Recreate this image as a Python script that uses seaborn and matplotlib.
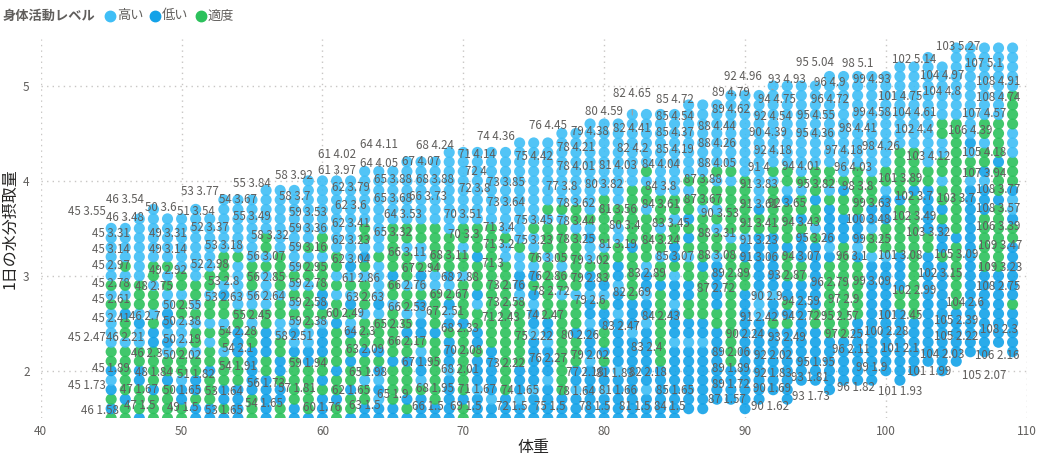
import pandas as pd
import matplotlib
matplotlib.use("Agg")
import matplotlib.pyplot as plt
from matplotlib.lines import Line2D
import seaborn as sns

# weights (x categories) and the shared y levels used by the columns
weights = [45, 46, 47, 48, 49, 50, 51, 52, 53, 54, 55, 56, 57, 58, 59, 60,
           61, 62, 63, 64, 65, 66, 67, 68, 69, 70, 71, 72, 73, 74, 75, 76,
           77, 78, 79, 80, 81, 82, 83, 84, 85, 86, 87, 88, 89, 90, 91, 92,
           93, 94, 95, 96, 97, 98, 99, 100, 101, 102, 103, 104, 105, 106,
           107, 108, 109]
levels = [1.5, 1.6, 1.7, 1.8, 1.9, 2.0, 2.1, 2.2, 2.3, 2.4, 2.5, 2.6, 2.7,
          2.8, 2.9, 3.0, 3.1, 3.2, 3.3, 3.4, 3.5, 3.6, 3.7, 3.8, 3.9, 4.0,
          4.1, 4.2, 4.3, 4.4, 4.5, 4.6, 4.7, 4.8, 4.9, 5.0, 5.1, 5.2, 5.3,
          5.4, 5.5]

# activity level per point, bottom -> top (H=高い, L=低い, T=適度, .=no point)
column_codes = [
    "TLTLH LTTHH HHTHT HHHHH H",
    "TTLTT TTTHT TLTHT HTHHH H",
    "LTTTL LTTHH LHTTT HHHHH HH",
    "TTTLT TTTLL THTTH TTHHH HHH",
    "TTTTL TTHLH LLHHT HTHHH HH",
    "TTLLH TTTHH HTTHT THHHH HH",
    "LLTLL TTHTT HTHTT HHHHH HHH",
    "LLTTT LTTHT HTTHT THHHH HH",
    "LTLLT TTHTT HTTLH TTTHH HHHH",
    "LLLLT TTLLL TTHHH HHTHH HHHH",
    "TTTLL LLLTT HTHHT TTHHH HHHH",
    "LLLLL TTLLL TTHHH HTHTT HHHHH",
    "TTLLT LLTTH HTTHT TTTHH HHHHH",
    "LLTTT TTLHL HTHTH THHHH HHHHH",
    "LTTTT TLLHH TTTTH TTHTH HHHHH H",
    "LLLTL TTLLL HTLLT TTHTT HHHHH H",
    "TTLTT LTTTT LTTHT HTTHH HHHHH H",
    "LTTLT TLTTL HTLHT HLHHH HHHHH H",
    "LLTTH TTLTT THTTT HTLHT THHHH HH",
    "LLHLH LTLTT THLHH HHTHH HHHHH HH",
    "LLTTT TLTTT TTHTT LTTTT THHHH HH",
    "LTLTT TLTTL THTTH TTTHT THHHH HHH",
    "LLLTH LLHTL LHLTH LTHHT THHHH HHH",
    "LLTTT TTTTL TTTTH HTTTT THHHH HHH",
    "LLLLL HLLLT LHLTH LTTTT HHHHH HHHH",
    "TTLTT TTTTT LTTTT HTTHT THHHH HHHH",
    "LLLHL LLTLL TTHLT TTLTT THHHH HHHH",
    "LLHLL LLLTT TTTTT TTTTT THHHH HHHH",
    "LLLTT TTTTT TTTTT TTHHT HHHHH HHHH",
    "LLHLL LTTTT TTTHL LHHTH HHHHH HHHHH",
    "LLLHL LLLLH LLHLT LHTHH THHHH HHHHH",
    "LLLLH LLLHL LTTTT TTHTT THTHH HHHHH",
    "LLLTT TTTTT TTTHT THTTT THTHH HHHHH H",
    "LLLHL LTTTL TTTHT TTTTT HTTHH HHHHH H",
    "LLLLL LHLLL HLLHL LTHHL HTHHH HHHHH HH",
    "LLLHL LTLTT LLTHL TTTHT TTTTH HHHHH HH",
    "LLLLL HLLLL LHLLH LLTTH HTTHH HHHHH HH",
    "LLLLL LLLLH LLLTT TTTLT TTTTT HHHHH HHH",
    "LLLHL LLLLL HLLHL LHTTT TTHTT HTHHH HHH",
    "LLLLL LTTTT TTTTL TTHTT HTTTH HHHHH HHH",
    "LLLLL LLLHL LLHLL HTLLT THTTH HHHHH HHH",
    ".LLLL LLLHL LTTLL TTHTL TLTTH THHHH HHHH",
    ".LLLL LLLHL LTTTT TLTTT TTHTT THHHH HHHH",
    "..LLL LLLLL TTLLL LLHTT HTHTT HTHHH HHHH",
    "..LLL LTTTT TTTTT TTTTH TTTTT HTHHH HHHHH",
    ".LLLL LLLLL LLLLT TTLLH TTTTT THHHH HHHHH",
    "..LLL LLLLL LHHHL LLLLL TTLHH HHHHH HHHHH",
    "...LL LLLLL TLLHL LLLLL TTTTT HTHHH HHHHH H",
    "..LLL LLLLL TLTLL TTTLT TTTLH TTHHH HHHHH H",
    "....L LLLLL LLLLL TTLLL TLTTH THHHH HHHHH H",
    "....L LLLLL TTLLL LLLLT HTTLT TTHHH HHHHH H",
    "...LL LLLLT TTTTT TTLHL LLLTH TTHHH HHHHH HH",
    "....L LLLLT TTTTT TTTTL LLTTL THHHH HHHHH HH",
    "....L LLLLL LTTTT TTLHL LLTTT TTHHH HHHHH HH",
    "....L LLLLL LLLLL LLHTT HLLTT THHHH HHHHH HH",
    "..... LLLLL LLLLL LLHTT TLLLH TTHHH HHHHH HH",
    "....L LLLLL LLTTL LLLTT TTTLT TTTTH HHHHH HHH",
    "..... LLLLL LTTTT TTTTT TTTTL TTTTH HHHHH HHH",
    "..... .LLLL LLLLL LLLTT LLLLL TTHHH HHHHH HHHH",
    "..... LLLLL LLLLL LLTLL LTLTT HTTHH TTHHH HHH",
    "..... .LLLL LLTTT TTTTL TTTTT TTTTT TTHHH HHHHH",
    "..... ..LLL LLLLL LLLLL LLLLL HTTHL HHHHH HHHHH",
    "..... ..LLL LLLLL LTTTT TTLLL HLTTH TTHHH HHHHH",
    "..... ...LL LLLLL LTTTT TTTLT TTLTT TTHHH HHHHH",
    "..... ..LLL LLTLL LLLLT TLHHL TTTHH HTTTT HHHHH",
]
code_names = {"H": "高い", "L": "低い", "T": "適度"}
hue_order = ["高い", "低い", "適度"]
colors = {"高い": "#3FBEF6", "低い": "#13A2E8", "適度": "#2CC15C"}

# data labels shown on the chart (weight, intake)
label_points = [
    (45, 3.55), (45, 3.31), (45, 3.14), (45, 2.97), (45, 2.78), (45, 2.61),
    (45, 2.41), (45, 2.47), (45, 1.89), (45, 1.73), (46, 3.48), (46, 2.7),
    (46, 2.21), (46, 2.3), (46, 1.58), (47, 1.67), (47, 1.5), (48, 2.75),
    (48, 1.84), (49, 3.31), (49, 3.14), (49, 2.92), (49, 1.5), (50, 3.6),
    (50, 2.55), (50, 2.38), (50, 2.19), (50, 2.02), (50, 1.65), (51, 3.54),
    (51, 1.82), (52, 3.37), (52, 2.98), (53, 3.77), (53, 3.18), (53, 2.8),
    (53, 2.63), (53, 1.64), (53, 1.65), (54, 3.67), (54, 2.28), (54, 2.1),
    (54, 1.91), (54, 1.65), (55, 3.84), (55, 3.49), (55, 2.45), (56, 3.07),
    (56, 2.85), (56, 2.64), (56, 1.73), (57, 1.81), (58, 3.92), (58, 3.7),
    (58, 3.32), (58, 2.51), (59, 3.53), (59, 3.36), (59, 3.16), (59, 2.95),
    (59, 2.78), (59, 2.58), (59, 2.38), (59, 1.94), (60, 1.76), (60, 2.49),
    (61, 3.97), (61, 2.86), (62, 3.79), (62, 3.6), (62, 3.41),
    (62, 3.23), (62, 3.04), (62, 1.65), (63, 2.63), (63, 2.09), (63, 1.5),
    (64, 4.05), (64, 3.53), (64, 2.3), (65, 3.88), (65, 3.68), (65, 3.32),
    (65, 2.35), (65, 1.98), (65, 1.9), (66, 3.73), (66, 3.11), (66, 2.76),
    (66, 2.53), (66, 2.17), (66, 1.5), (67, 4.07), (67, 2.94), (67, 2.51),
    (67, 1.95), (68, 4.24), (68, 3.88), (68, 3.11), (68, 2.88), (68, 2.33),
    (68, 2.01), (68, 1.95), (69, 2.67), (69, 1.5), (70, 3.51), (70, 3.3),
    (70, 2.08), (71, 4.14), (71, 3.4), (71, 3.2), (71, 3.0), (71, 2.43),
    (71, 1.67), (72, 4.0), (72, 3.8), (72, 1.5), (73, 3.85), (73, 3.64),
    (73, 2.76), (73, 2.58), (73, 2.22), (74, 4.36), (74, 2.47), (74, 1.65),
    (75, 4.42), (75, 3.45), (75, 3.23), (75, 2.22), (75, 1.5), (76, 4.45),
    (76, 3.05), (76, 2.86), (76, 2.27), (77, 3.8), (77, 2.18), (78, 4.21),
    (78, 4.01), (78, 3.62), (78, 3.44), (78, 3.25), (78, 2.72), (78, 1.64),
    (78, 1.5), (79, 4.38), (79, 3.02), (79, 2.83), (79, 2.6), (79, 2.02),
    (80, 4.59), (80, 3.82), (80, 3.4), (80, 2.26), (81, 4.03), (81, 3.56),
    (81, 3.19), (81, 1.83), (81, 1.66), (81, 1.5), (82, 4.41), (82, 4.2),
    (82, 2.69), (82, 2.18), (83, 3.45), (83, 2.89), (83, 2.47), (83, 2.4),
    (84, 4.04), (84, 3.8), (84, 3.61), (84, 3.24), (84, 2.43), (84, 1.5),
    (85, 4.72), (85, 4.54), (85, 4.37), (85, 4.19), (85, 3.07), (85, 1.65),
    (87, 3.88), (87, 3.67), (87, 2.72), (87, 1.57), (88, 4.44), (88, 4.26),
    (88, 4.05), (88, 3.31), (88, 3.08), (89, 4.79), (89, 4.62), (89, 2.89),
    (89, 2.06), (89, 1.89), (89, 1.72), (90, 4.39), (90, 3.53), (90, 2.9),
    (90, 2.24), (90, 1.62), (90, 1.69), (91, 4.0), (91, 3.83), (91, 3.61),
    (91, 3.41), (91, 3.23), (91, 3.06), (91, 2.42), (92, 4.54), (92, 4.18),
    (92, 3.65), (92, 2.02), (92, 1.83), (93, 4.93), (93, 2.87), (93, 2.49),
    (93, 1.81), (93, 1.73), (94, 4.75), (94, 4.01), (94, 3.43), (94, 3.07),
    (94, 2.59), (94, 2.72), (95, 4.55), (95, 4.36), (95, 3.82), (95, 3.26),
    (95, 2.57), (95, 1.95), (96, 4.9), (96, 4.72), (96, 4.03), (96, 3.1),
    (96, 2.79), (96, 2.11), (96, 1.82), (97, 4.18), (97, 2.9), (97, 2.25),
    (98, 5.1), (98, 4.41), (98, 4.26), (98, 3.8), (99, 4.93), (99, 4.58),
    (99, 3.63), (99, 3.25), (99, 3.09), (99, 1.9), (100, 3.48), (100, 2.28),
    (101, 4.75), (101, 3.89), (101, 3.08), (101, 2.45), (101, 2.1),
    (101, 1.99), (101, 1.93), (102, 5.14), (102, 4.4), (102, 3.7),
    (102, 3.49), (102, 3.15), (102, 2.99), (103, 4.12), (103, 3.7),
    (103, 3.32), (104, 4.97), (104, 4.8), (104, 4.61), (104, 2.6),
    (104, 2.03), (105, 4.18), (105, 3.09), (105, 2.39), (105, 2.22),
    (105, 2.07), (106, 4.39), (106, 3.39), (106, 2.16), (107, 5.1),
    (107, 4.57), (107, 3.94), (108, 4.91), (108, 4.74), (108, 3.77),
    (108, 3.57), (108, 2.75), (108, 2.3), (109, 3.47), (109, 3.23),
]
# labels drawn with a leader line
leader_points = [(46, 3.54), (61, 4.02), (64, 4.11), (82, 4.65), (92, 4.96),
                 (95, 5.04), (103, 5.27)]

# label placement (dx, dy) in pixels where the label is not right above its point
label_shift = {
    (45, 3.55): (-24, 12), (45, 2.47): (-24, -11), (45, 1.73): (-24, 11),
    (46, 1.58): (-25, 0), (46, 2.7): (19, -12), (46, 2.3): (21, -11),
    (49, 1.5): (15, 11), (50, 3.6): (-21, 11), (53, 3.77): (-24, 11),
    (53, 1.65): (0, -7), (54, 1.65): (26, 0), (57, 1.81): (17, 0),
    (58, 3.32): (-24, 10), (58, 2.51): (0, -14),
    (60, 1.76): (0, -14), (60, 2.49): (23, 11),
    (61, 2.86): (24, 11), (64, 3.53): (24, 11), (64, 2.3): (-19, 11),
    (65, 1.98): (-25, 0), (65, 1.9): (0, -14), (66, 3.73): (21, 10),
    (66, 1.5): (21, 12), (67, 2.51): (24, 11), (68, 3.11): (14, 10),
    (68, 2.88): (25, 10), (68, 2.33): (25, 11), (68, 2.01): (25, 0),
    (68, 1.95): (0, -13), (69, 1.5): (17, 12), (71, 3.4): (21, 10),
    (71, 3.2): (21, 12), (71, 3.0): (16, 12), (71, 2.43): (24, 12),
    (72, 4.0): (-16, 9), (72, 3.8): (-17, 11), (72, 1.5): (20, 12),
    (73, 2.22): (0, -14), (74, 4.36): (-24, 10), (74, 2.47): (25, 11),
    (75, 4.42): (0, -15), (75, 1.5): (16, 12), (76, 2.27): (0, -13),
    (77, 2.18): (23, -19), (78, 2.72): (-25, 11), (78, 1.5): (19, 12),
    (80, 3.4): (21, 12), (80, 2.26): (-24, 11), (81, 1.83): (-3, 13),
    (81, 1.5): (16, 12),
    (82, 2.18): (16, -19), (83, 3.45): (24, 10), (83, 2.47): (-26, 0),
    (83, 2.4): (0, -15),
    (84, 1.5): (9, 12), (87, 2.72): (13, 14), (87, 1.57): (24, 12),
    (90, 4.39): (23, 11), (90, 3.53): (-25, 12), (90, 2.9): (22, -11),
    (90, 1.69): (27, 12), (90, 1.62): (25, 0), (92, 3.65): (14, 11),
    (93, 2.49): (0, -13),
    (93, 1.81): (23, 11), (93, 1.73): (24, 0), (94, 4.75): (-24, 10),
    (94, 2.72): (0, -14), (95, 2.57): (24, 0), (96, 4.03): (24, 11),
    (96, 3.1): (22, 10), (96, 2.11): (21, 11), (96, 1.82): (26, 0),
    (97, 2.9): (0, -14),
    (98, 4.26): (23, 10), (99, 3.09): (0, -14), (100, 3.48): (-18, 11),
    (101, 1.99): (29, 0),
    (101, 1.93): (0, -14), (102, 3.15): (26, -12), (102, 2.99): (0, -14),
    (103, 3.7): (28, 11), (104, 4.61): (-28, 10), (104, 2.6): (23, 11),
    (105, 4.18): (28, 11), (105, 2.07): (28, -11), (106, 3.39): (28, 12),
    (106, 2.16): (27, 0), (109, 3.47): (-12, -14), (109, 3.23): (-12, -14),
    (46, 3.54): (0, 25), (61, 4.02): (0, 25), (64, 4.11): (0, 26),
    (82, 4.65): (0, 26), (92, 4.96): (-30, 13), (95, 5.04): (0, 20),
    (103, 5.27): (30, 14),
}

rows = []
for w, code in zip(weights, column_codes):
    code = code.replace(" ", "")
    for i, c in enumerate(code):
        if c != ".":
            rows.append((w, levels[i], code_names[c]))
df = pd.DataFrame(rows, columns=["体重", "1日の水分摂取量", "身体活動レベル"])

sns.set_style("white")
plt.rcParams["font.family"] = ["Noto Sans CJK JP", "DejaVu Sans"]

fig = plt.figure(figsize=(10.42, 4.58), dpi=100)
ax = fig.add_axes([0.0391, 0.0869, 0.9462, 0.829])

sns.scatterplot(data=df, x="体重", y="1日の水分摂取量", hue="身体活動レベル",
                hue_order=hue_order, palette=colors, s=64, linewidth=0,
                alpha=0.9, legend=False, ax=ax)

label_color = "#605E5C"
px = 72 / 100  # pixels -> points
for w, v in label_points:
    dx, dy = label_shift.get((w, v), (0, 13))
    ax.annotate(f"{w} {v:g}", (w, v), xytext=(dx * px, dy * px),
                textcoords="offset points", ha="center", va="center",
                fontsize=8.3, color=label_color)
for w, v in leader_points:
    dx, dy = label_shift[(w, v)]
    ax.annotate(f"{w} {v:g}", (w, v), xytext=(dx * px, dy * px),
                textcoords="offset points", ha="center", va="center",
                fontsize=8.3, color=label_color,
                arrowprops=dict(arrowstyle="-", color="#A19F9D", lw=0.8,
                                shrinkA=5, shrinkB=3))

ax.set_xlim(40, 110)
ax.set_ylim(1.5, 5.5)
ax.set_xticks([40, 50, 60, 70, 80, 90, 100, 110])
ax.set_yticks([2, 3, 4, 5])
ax.grid(True, color="#C8C6C4", linestyle=(0, (1, 3)), linewidth=1)
ax.set_axisbelow(True)
for s in ax.spines.values():
    s.set_visible(False)
ax.tick_params(axis="both", length=0, labelsize=8.5, labelcolor=label_color)
ax.tick_params(axis="y", pad=8)
ax.tick_params(axis="x", pad=5)

ax.set_xlabel("体重", fontsize=11.5, color="#252423")
ax.set_ylabel("1日の水分摂取量", fontsize=11.5, color="#252423")
ax.xaxis.set_label_coords(0.5, -0.076)
ax.xaxis.label.set_va("center")
ax.yaxis.set_label_coords(-0.031, 0.5)
ax.yaxis.label.set_va("center")

# legend across the top
ly = 1 - 16 / 458
fig.text(3 / 1042, ly, "身体活動レベル", fontsize=9.5, fontweight="bold",
         color=label_color, va="center", ha="left")
for name, mx in zip(hue_order, [110, 155, 201]):
    fig.add_artist(Line2D([mx / 1042], [ly], transform=fig.transFigure,
                          marker="o", markersize=7.5, linestyle="none",
                          color=colors[name]))
    fig.text((mx + 7) / 1042, ly, name, fontsize=9.5, color=label_color,
             va="center", ha="left")

fig.savefig("out.png", dpi=100)
